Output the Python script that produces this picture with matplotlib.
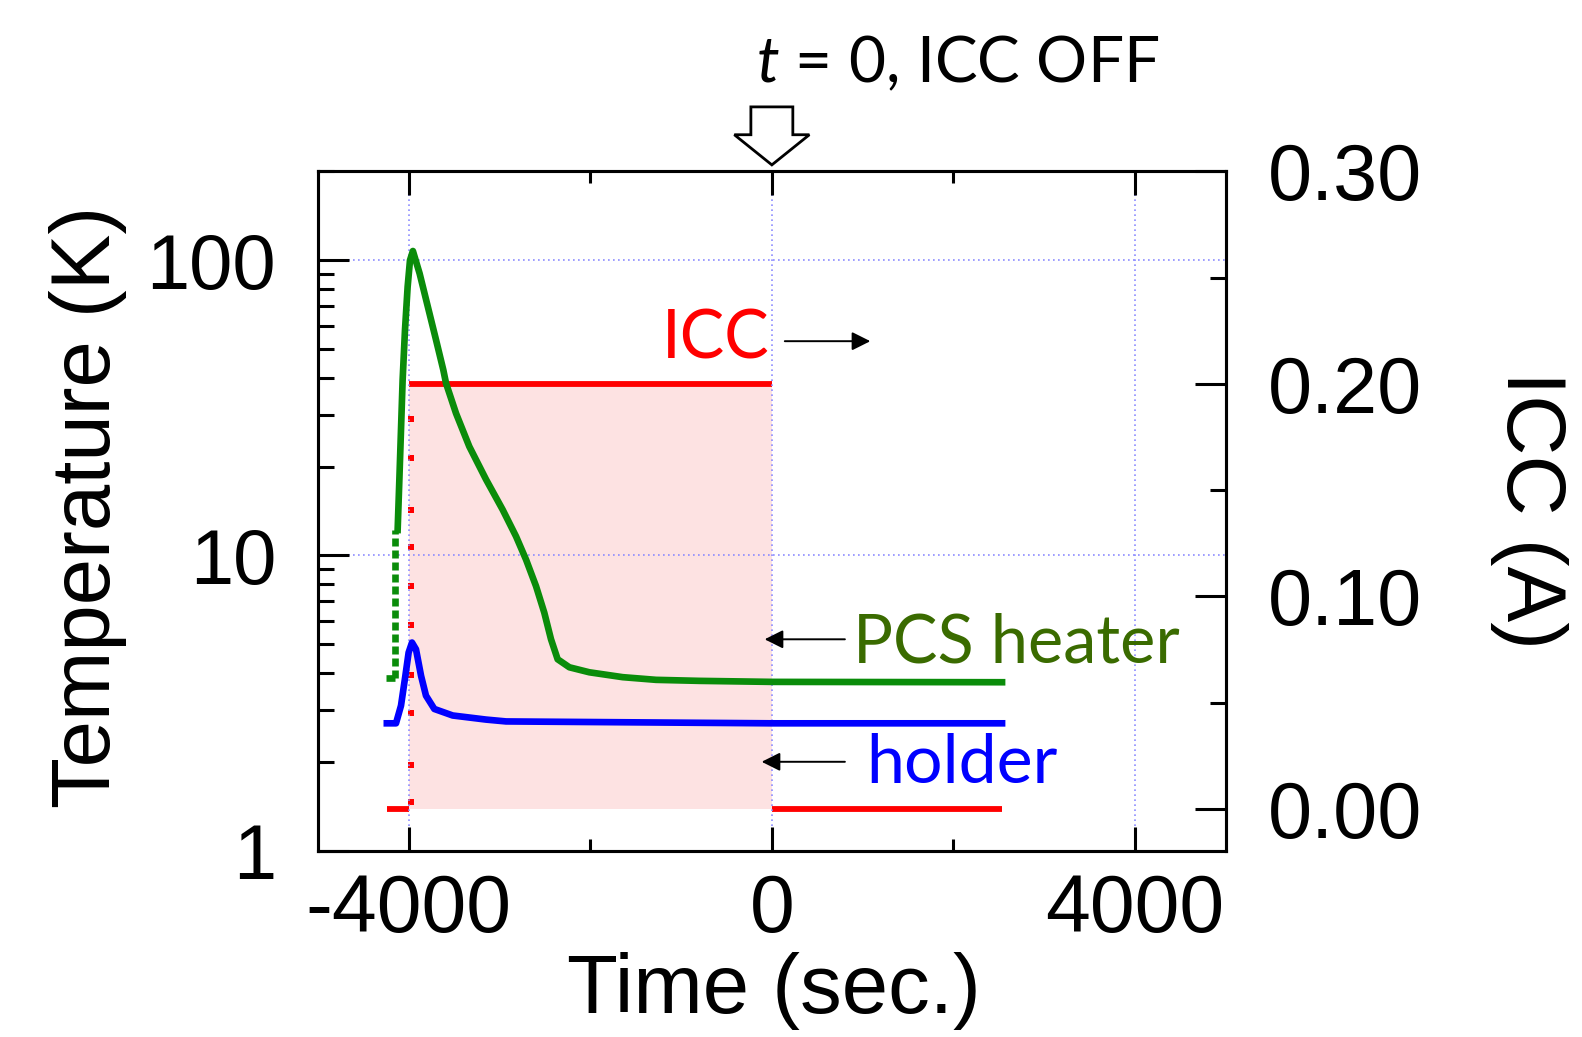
import numpy as np
import matplotlib
matplotlib.use("Agg")
import matplotlib.pyplot as plt
from matplotlib.ticker import FixedLocator, MultipleLocator, LogLocator, NullFormatter, FuncFormatter
from matplotlib.patches import Polygon
import matplotlib.transforms as mtransforms

# ---- data ----
# PCS heater temperature (K)
heater_pre_t = [-4249, -4146]
heater_pre_T = [3.84, 3.84]
heater_jump_t = [-4146, -4146]
heater_jump_T = [3.84, 12.2]
heater_t = [-4121, -4102, -4084, -4066, -4040, -4011, -3985, -3953, -3879, -3788,
            -3698, -3618, -3588, -3478, -3332, -3148, -2965, -2817, -2707, -2597,
            -2506, -2432, -2359, -2230, -2010, -1643, -1275, -798, 0, 2535]
heater_T = [12.2, 18.1, 26.7, 39.4, 58.1, 81.3, 100, 107.5, 90.2, 69.5,
            53.7, 42.5, 38.3, 30.3, 23.4, 18.1, 14.3, 11.6, 9.68, 7.87,
            6.40, 5.20, 4.45, 4.18, 4.02, 3.87, 3.79, 3.76, 3.73, 3.72]

# holder temperature (K)
holder_t = [-4240, -4139, -4084, -4036, -4000, -3963, -3919, -3863, -3809,
            -3717, -3515, -3148, -2927, 0, 2535]
holder_T = [2.70, 2.70, 3.10, 3.91, 4.69, 5.07, 4.81, 3.91, 3.35,
            3.02, 2.87, 2.78, 2.74, 2.70, 2.70]

# ICC current (A)
icc_before_t = [-4240, -4000]
icc_before_I = [0.0, 0.0]
icc_ramp_t = [-3970] * 10
icc_ramp_I = [0.1835, 0.165, 0.1407, 0.1233, 0.1049, 0.0866, 0.0631, 0.0452, 0.0207, 0.0033]
icc_on_t = [-4000, 0]
icc_on_I = [0.2, 0.2]
icc_off_t = [0, 2535]
icc_off_I = [0.0, 0.0]

x_major = [-4000, 0, 4000]
y_major = [1, 10, 100]
icc_major = [0.0, 0.1, 0.2, 0.3]

green = "#0a8c0a"
blue = "#0000ff"
red = "#ff0000"

plt.rcParams["font.family"] = ["Liberation Sans", "DejaVu Sans"]
plt.rcParams["mathtext.fontset"] = "custom"
plt.rcParams["mathtext.it"] = "Lato:italic"
note_font = ["Lato", "DejaVu Sans"]

fig = plt.figure(figsize=(15.82, 10.37), dpi=100)
ax = fig.add_axes([0.2009, 0.1797, 0.574, 0.655])
ax2 = ax.twinx()
ax.set_zorder(ax2.get_zorder() + 1)
ax.patch.set_visible(False)

# ICC on right axis
ax2.fill_between(icc_on_t, [0, 0], icc_on_I, color="#fde2e2", lw=0, zorder=1)
ax2.plot(icc_before_t, icc_before_I, color=red, lw=4.2, solid_capstyle="butt", zorder=3)
ax2.plot(icc_on_t, icc_on_I, color=red, lw=4.2, solid_capstyle="butt", zorder=3)
ax2.plot(icc_off_t, icc_off_I, color=red, lw=4.2, solid_capstyle="butt", zorder=3)
ax2.plot(icc_ramp_t, icc_ramp_I, ls="none", marker="s", ms=4.5, color=red, mew=0, zorder=3)
ax2.set_ylim(-0.0196, 0.30)
ax2.yaxis.set_major_locator(FixedLocator(icc_major))
ax2.yaxis.set_minor_locator(MultipleLocator(0.05))
ax2.yaxis.set_major_formatter(FuncFormatter(lambda v, p: f"{v:.2f}"))
ax2.tick_params(which="both", direction="in", left=False, right=True, width=2.2)
ax2.tick_params(which="major", length=22, pad=30, labelsize=57)
ax2.tick_params(which="minor", length=11.5)
ax2.set_ylabel("ICC (A)", fontsize=60, rotation=270, va="center")
ax2.yaxis.set_label_coords(1.334, 0.501)

# temperatures on left (log) axis
ax.plot(heater_pre_t, heater_pre_T, color=green, lw=4.8, solid_capstyle="butt", zorder=4)
ax.plot(heater_jump_t, heater_jump_T, color=green, lw=4.8, ls=(0, (1.2, 0.6)), zorder=4)
ax.plot(heater_t, heater_T, color=green, lw=4.8, zorder=4)
ax.plot(holder_t, holder_T, color=blue, lw=4.8, zorder=4)

ax.set_yscale("log")
ax.set_xlim(-5000, 5000)
ax.set_ylim(1, 200)
ax.xaxis.set_major_locator(FixedLocator(x_major))
ax.xaxis.set_minor_locator(MultipleLocator(2000))
ax.yaxis.set_major_locator(FixedLocator(y_major))
ax.yaxis.set_minor_locator(LogLocator(base=10, subs=np.arange(2, 10)))
ax.yaxis.set_minor_formatter(NullFormatter())
ax.yaxis.set_major_formatter(FuncFormatter(lambda v, p: f"{v:g}"))
ax.xaxis.set_major_formatter(FuncFormatter(lambda v, p: f"{v:g}"))
ax.tick_params(which="both", direction="in", top=True, right=False, width=2.2)
ax.tick_params(axis="x", which="major", length=17, pad=16, labelsize=58)
ax.tick_params(axis="x", which="minor", length=8.6)
ax.tick_params(axis="y", which="major", length=22, pad=30, labelsize=56)
ax.tick_params(axis="y", which="minor", length=11.5)
ax.grid(True, which="major", color="#8c8cff", ls=(0, (1, 2)), lw=1.2)

for a in (ax, ax2):
    for s in a.spines.values():
        s.set_linewidth(2.2)

ax.set_xlabel("Time (sec.)", fontsize=60, va="center")
ax.xaxis.set_label_coords(0.502, -0.207)
ax.set_ylabel("Temperature (K)", fontsize=60, va="center")
ax.yaxis.set_label_coords(-0.253, 0.506)

# annotations
arrow = dict(arrowstyle="-|>", color="black", lw=1.4, mutation_scale=28)
ax.annotate("", xy=(1115, 53.2), xytext=(112, 53.2), arrowprops=arrow)
ax.annotate("", xy=(-110, 5.2), xytext=(835, 5.2), arrowprops=arrow)
ax.annotate("", xy=(-143, 2.0), xytext=(835, 2.0), arrowprops=arrow)
ax.text(-20, 54, "ICC", color=red, fontsize=48, family=note_font, ha="right", va="center")
ax.text(895, 5.05, "PCS heater", color="#3a6b00", fontsize=48, family=note_font, ha="left", va="center")
ax.text(1038, 1.97, "holder", color=blue, fontsize=49, family=note_font, ha="left", va="center")

fig.text(0.6056, 0.939, r"$t$ = 0, ICC OFF", fontsize=46, family=note_font, ha="center", va="center")

# hollow arrow marking t = 0
trans = mtransforms.blended_transform_factory(ax.transData, ax.transAxes)
verts = [(-231, 1.095), (231, 1.095), (231, 1.054), (413, 1.054), (0, 1.0096),
         (-413, 1.054), (-231, 1.054)]
ax.add_patch(Polygon(verts, closed=True, facecolor="white", edgecolor="black", lw=2,
                     transform=trans, clip_on=False, zorder=10))

fig.savefig("out.png", dpi=100)
